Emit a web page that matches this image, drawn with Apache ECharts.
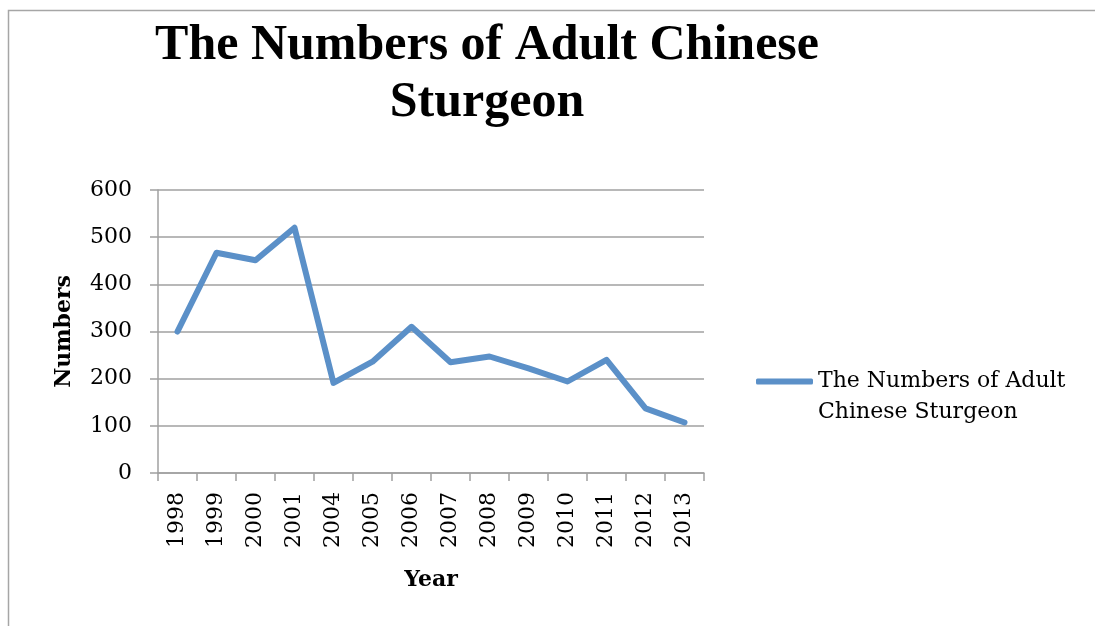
<!DOCTYPE html>
<html>
<head>
<meta charset="utf-8">
<script src="https://cdn.jsdelivr.net/npm/echarts@6/dist/echarts.min.js"></script>
<style>html,body{margin:0;padding:0;background:#fff}#c{width:1095px;height:626px}</style>
</head>
<body>
<div id="c"></div>
<script>
const years = ['1998','1999','2000','2001','2004','2005','2006','2007','2008','2009','2010','2011','2012','2013'];
const adultSturgeon = [300, 467, 451, 520, 191, 236, 310, 235, 247, 222, 194, 240, 137, 107];
const seriesName = 'The Numbers of Adult Chinese Sturgeon';
const yTicks = [0, 100, 200, 300, 400, 500, 600];

const TITLE_FONT = '"Liberation Serif", serif';
const FONT = '"DejaVu Serif", serif';
const chart = echarts.init(document.getElementById('c'));
chart.setOption({
  backgroundColor: '#fff',
  animation: false,
  graphic: [{
    type: 'rect', shape: {x: 8.5, y: 10.5, width: 1200, height: 700},
    style: {fill: 'none', stroke: '#a6a6a6', lineWidth: 1.5}, silent: true
  }],
  title: {
    text: 'The Numbers of Adult Chinese\nSturgeon',
    left: 482, top: 13, textAlign: 'center',
    textStyle: {fontFamily: TITLE_FONT, fontWeight: 'bold', fontSize: 50, lineHeight: 57, color: '#000'}
  },
  legend: {
    left: 751, top: 330,
    itemWidth: 57, itemHeight: 6, itemGap: 0,
    icon: 'roundRect',
    formatter: () => '\nThe Numbers of Adult\nChinese Sturgeon',
    textStyle: {fontFamily: FONT, fontSize: 22, lineHeight: 31, color: '#000'},
    data: [seriesName]
  },
  grid: {left: 158, right: 391, top: 190, bottom: 153, containLabel: false},
  xAxis: {
    type: 'category', data: years, boundaryGap: true,
    name: 'Year', nameLocation: 'middle', nameGap: 96,
    nameTextStyle: {fontFamily: FONT, fontWeight: 'bold', fontSize: 22, color: '#000'},
    axisLine: {lineStyle: {color: '#a0a0a0', width: 1.5}},
    axisTick: {show: true, length: 8, lineStyle: {color: '#a0a0a0', width: 1.5}, alignWithLabel: false},
    axisLabel: {rotate: 90, fontFamily: FONT, fontSize: 22, color: '#000', margin: 19}
  },
  yAxis: {
    type: 'value', min: 0, max: 600, interval: 100,
    name: 'Numbers', nameLocation: 'middle', nameGap: 83, nameRotate: 90,
    nameTextStyle: {fontFamily: FONT, fontWeight: 'bold', fontSize: 22, color: '#000'},
    axisLine: {show: true, lineStyle: {color: '#a0a0a0', width: 1.5}},
    axisTick: {show: true, length: 8, lineStyle: {color: '#a0a0a0', width: 1.5}},
    axisLabel: {fontFamily: FONT, fontSize: 22, color: '#000', margin: 26,
      formatter: v => yTicks.includes(v) ? String(v) : ''},
    splitLine: {show: true, lineStyle: {color: '#a0a0a0', width: 1.5}}
  },
  series: [{
    name: seriesName, type: 'line', data: adultSturgeon,
    symbol: 'none', lineStyle: {color: '#5b90c8', width: 6, join: 'round', cap: 'round'},
    itemStyle: {color: '#5b90c8'}
  }]
});
</script>
</body>
</html>
